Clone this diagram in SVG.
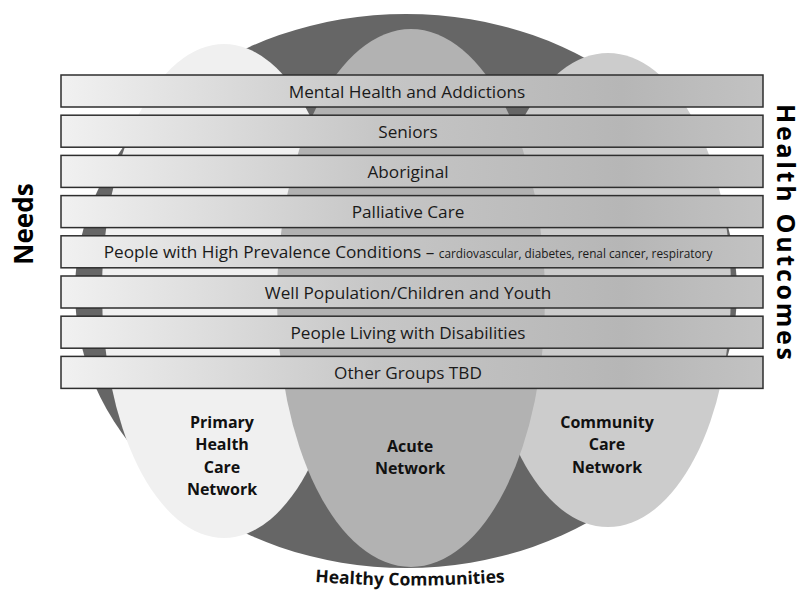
<svg xmlns="http://www.w3.org/2000/svg" width="804" height="590" viewBox="0 0 804 590">
<defs>
<linearGradient id="bandGrad" x1="0" y1="0" x2="1" y2="0">
<stop offset="0" stop-color="#f1f1f1"/>
<stop offset="0.45" stop-color="#c6c6c6"/>
<stop offset="0.8" stop-color="#b6b6b6"/>
<stop offset="1" stop-color="#c2c2c2"/>
</linearGradient>
<path id="arcPath" d="M 280 579 Q 410 592 540 579"/>
<style>
.band{fill:url(#bandGrad);stroke:#2e2e2e;stroke-width:1.5}
.bt{font-family:"Open Sans","Liberation Sans",sans-serif;font-size:17.2px;fill:#1a1a1a;text-anchor:middle}
.small{font-size:11.8px}
.net{font-family:"Open Sans","Liberation Sans",sans-serif;font-size:16px;font-weight:bold;fill:#111;text-anchor:middle}
.arc{font-size:17.5px}
.side{font-family:"Open Sans","Liberation Sans",sans-serif;font-size:26px;font-weight:bold;fill:#000;text-anchor:middle}
.ho{font-size:25px}
</style>
</defs>
<rect width="804" height="590" fill="#ffffff"/>
<g id="healthy-communities">
<ellipse cx="406" cy="291" rx="331" ry="277" fill="#666666"/>
</g>
<g id="primary-health-care-network">
<ellipse cx="224" cy="291" rx="122" ry="247" fill="#f0f0f0"/>
</g>
<g id="community-care-network">
<ellipse cx="608" cy="290" rx="123" ry="237" fill="#cccccc"/>
</g>
<g id="acute-network">
<ellipse cx="411" cy="298" rx="134" ry="269" fill="#b2b2b2"/>
</g>
<g id="bands">
<g id="band-mental-health"><rect class="band" x="61" y="75" width="702" height="32"/><text class="bt" x="407" y="97.5">Mental Health and Addictions</text></g>
<g id="band-seniors"><rect class="band" x="61" y="115.2" width="702" height="32"/><text class="bt" x="408" y="137.7">Seniors</text></g>
<g id="band-aboriginal"><rect class="band" x="61" y="155.4" width="702" height="32"/><text class="bt" x="408" y="177.9">Aboriginal</text></g>
<g id="band-palliative"><rect class="band" x="61" y="195.6" width="702" height="32"/><text class="bt" x="408" y="218.1">Palliative Care</text></g>
<g id="band-high-prevalence"><rect class="band" x="61" y="235.8" width="702" height="32"/><text class="bt" x="408" y="258.3">People with High Prevalence Conditions – <tspan class="small">cardiovascular, diabetes, renal cancer, respiratory</tspan></text></g>
<g id="band-well-population"><rect class="band" x="61" y="276" width="702" height="32"/><text class="bt" x="408" y="298.5">Well Population/Children and Youth</text></g>
<g id="band-disabilities"><rect class="band" x="61" y="316.2" width="702" height="32"/><text class="bt" x="408" y="338.7">People Living with Disabilities</text></g>
<g id="band-other"><rect class="band" x="61" y="356.4" width="702" height="32"/><text class="bt" x="408" y="378.9">Other Groups TBD</text></g>
</g>
<g id="labels">
<text class="net" x="222" y="428">Primary</text>
<text class="net" x="222" y="450">Health</text>
<text class="net" x="222" y="473">Care</text>
<text class="net" x="222" y="495">Network</text>
<text class="net" x="410" y="452">Acute</text>
<text class="net" x="410" y="474">Network</text>
<text class="net" x="607" y="428">Community</text>
<text class="net" x="607" y="450">Care</text>
<text class="net" x="607" y="473">Network</text>
<text class="net arc"><textPath href="#arcPath" startOffset="50%">Healthy Communities</textPath></text>
</g>
<g id="needs">
<text class="side" transform="translate(33 224) rotate(-90)">Needs</text>
</g>
<g id="health-outcomes">
<text class="side ho" transform="translate(777 232) rotate(90)" textLength="256" lengthAdjust="spacing">Health Outcomes</text>
</g>
</svg>
